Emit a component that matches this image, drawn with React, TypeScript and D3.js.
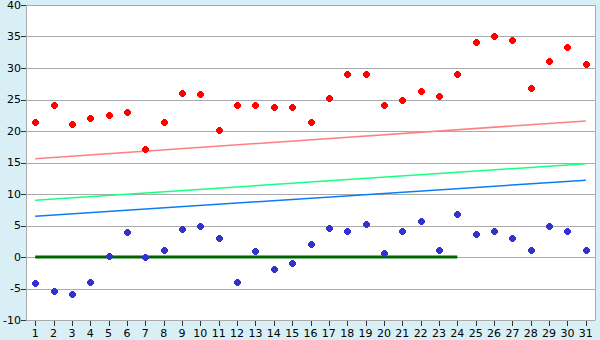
import React from "react";
import * as d3 from "d3";

const categories = Array.from({ length: 31 }, (_, i) => String(i + 1));
const redValues = [21.4, 24.1, 21.1, 22.0, 22.6, 23.0, 17.1, 21.5, 26.0, 25.8, 20.1, 24.1, 24.1, 23.8, 23.8, 21.4, 25.2, 29.0, 29.0, 24.2, 25.0, 26.3, 25.5, 29.0, 34.1, 35.0, 34.4, 26.8, 31.1, 33.4, 30.6];
const blueValues = [-4.2, -5.4, -5.9, -4.0, 0.1, 3.9, 0.0, 1.1, 4.4, 4.9, 3.0, -4.0, 0.9, -1.9, -1.0, 2.0, 4.6, 4.2, 5.2, 0.6, 4.1, 5.7, 1.1, 6.8, 3.6, 4.1, 3.0, 1.1, 5.0, 4.2, 1.1];
const redTrend = [{ c: "1", v: 15.6 }, { c: "31", v: 21.6 }];
const greenTrend = [{ c: "1", v: 9.0 }, { c: "31", v: 14.8 }];
const blueTrend = [{ c: "1", v: 6.45 }, { c: "31", v: 12.2 }];
const zeroLine = [{ c: "1", v: 0 }, { c: "24", v: 0 }];
const yTicks = [-10, -5, 0, 5, 10, 15, 20, 25, 30, 35, 40];

const W = 600, H = 340;
const M = { left: 26, right: 5, top: 5, bottom: 20 };

const markerPath = "M-1,-3H2V-2H3V-1H4V2H3V3H2V4H-1V3H-2V2H-3V-1H-2V-2H-1Z";

export default function App() {
  const x = d3.scaleBand().domain(categories).range([M.left, W - M.right]);
  const y = d3.scaleLinear().domain([-10, 40]).range([H - M.bottom, M.top]);
  const cx = (c: string) => (x(c) as number) + x.bandwidth() / 2;
  const line = d3.line<{ c: string; v: number }>().x((d) => cx(d.c)).y((d) => y(d.v));
  const left = M.left, right = W - M.right, top = M.top, bottom = H - M.bottom;

  return (
    <svg width={W} height={H} style={{ position: "absolute", left: 0, top: 0, display: "block" }}
      fontFamily="DejaVu Sans, Verdana, sans-serif">
      <rect x={0} y={0} width={W} height={H} fill="#d9eff6" />
      <rect x={left} y={top} width={right - left} height={bottom - top} fill="#ffffff" />
      {yTicks.map((t) => (
        <g key={t}>
          <line x1={left} x2={right} y1={Math.round(y(t)) + 0.5} y2={Math.round(y(t)) + 0.5} stroke="#aaaaaa" strokeWidth={1} />
          <line x1={left - 5} x2={left} y1={Math.round(y(t)) + 0.5} y2={Math.round(y(t)) + 0.5} stroke="#333333" strokeWidth={1} />
          <text x={left - 5} y={y(t)} dy="0.35em" textAnchor="end" fontSize={11} fill="#000">{t}</text>
        </g>
      ))}
      <line x1={left + 0.5} x2={left + 0.5} y1={top} y2={bottom + 0.5} stroke="#aaaaaa" />
      <line x1={right + 0.5} x2={right + 0.5} y1={top} y2={bottom + 0.5} stroke="#aaaaaa" />
      {categories.map((c) => (
        <g key={c}>
          <line x1={Math.round(cx(c)) + 0.5} x2={Math.round(cx(c)) + 0.5} y1={bottom + 1} y2={bottom + 6} stroke="#333333" />
          <text x={cx(c)} y={bottom + 17} textAnchor="middle" fontSize={11} fill="#000">{c}</text>
        </g>
      ))}
      <path d={line(redTrend) as string} fill="none" stroke="#ff8080" strokeWidth={1.5} />
      <path d={line(greenTrend) as string} fill="none" stroke="#19ff80" strokeWidth={1.5} />
      <path d={line(blueTrend) as string} fill="none" stroke="#0a7cf5" strokeWidth={1.5} />
      <path d={line(zeroLine) as string} fill="none" stroke="#006400" strokeWidth={3} />
      {redValues.map((v, i) => (
        <path key={"r" + i} d={markerPath} shapeRendering="crispEdges" transform={`translate(${Math.round(cx(categories[i]))},${Math.round(y(v))})`} fill="#ff0000" />
      ))}
      {blueValues.map((v, i) => (
        <path key={"b" + i} d={markerPath} shapeRendering="crispEdges" transform={`translate(${Math.round(cx(categories[i]))},${Math.round(y(v))})`} fill="#3333cc" />
      ))}
    </svg>
  );
}
